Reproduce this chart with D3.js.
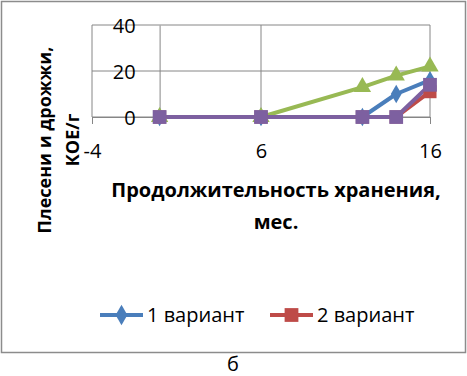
<!DOCTYPE html>
<html>
<head>
<meta charset="utf-8">
<script src="https://cdn.jsdelivr.net/npm/d3@7"></script>
<style>
  body { margin: 0; background: #fff; }
  svg text { font-family: "Open Sans", sans-serif; fill: #000; }
</style>
</head>
<body>
<div id="chart"></div>
<script>
// months of storage
const months = [0, 6, 12, 14, 16];
// moulds and yeasts, CFU/g
const variant1 = [0, 0, 0, 10, 16];
const variant2 = [0, 0, 0, 0, 11];
const variant3 = [0, 0, 13, 18, 22];
const variant4 = [0, 0, 0, 0, 14];
const seriesNames = ["1 вариант", "2 вариант", "3 вариант", "4 вариант"];
const xTicks = [-4, 6, 16];
const yTicks = [0, 20, 40];

const W = 467, H = 376;
const series = [
  { name: seriesNames[0], values: variant1, color: "#4a7ebb", shape: d3.symbolDiamond, size: 100 },
  { name: seriesNames[1], values: variant2, color: "#be4b48", shape: d3.symbolSquare, size: 170 },
  { name: seriesNames[2], values: variant3, color: "#98b954", shape: d3.symbolTriangle, size: 130 },
  { name: seriesNames[3], values: variant4, color: "#7d60a0", shape: d3.symbolSquare, size: 190 }
];

const svg = d3.select('#chart').append('svg')
  .attr('width', W)
  .attr('height', H);

// outer chart frame
svg.append('rect')
  .attr('x', 1.5).attr('y', 1.5)
  .attr('width', 464).attr('height', 351)
  .attr('fill', '#fff')
  .attr('stroke', '#8c8c8c')
  .attr('stroke-width', 1.5);

const x = d3.scaleLinear().domain([-4, 16]).range([92, 430]);
const y = d3.scaleLinear().domain([0, 40]).range([117, 25]);

// gridlines
svg.append('g').selectAll('line')
  .data(yTicks)
  .enter().append('line')
  .attr('x1', x(-4)).attr('x2', x(16))
  .attr('y1', d => y(d)).attr('y2', d => y(d))
  .attr('stroke', '#868686');

svg.append('g').selectAll('line')
  .data(xTicks)
  .enter().append('line')
  .attr('x1', d => x(d)).attr('x2', d => x(d))
  .attr('y1', y(0)).attr('y2', y(40))
  .attr('stroke', '#868686');

// axes
const xAxis = svg.append('g')
  .attr('transform', `translate(0,${y(0)})`)
  .call(d3.axisBottom(x).tickValues(xTicks).tickSize(7).tickPadding(20).tickFormat(d3.format('d')));

const yAxis = svg.append('g')
  .attr('transform', `translate(${x(0)},0)`)
  .call(d3.axisLeft(y).tickValues(yTicks).tickSize(0).tickPadding(24));

[xAxis, yAxis].forEach(a => {
  a.select('.domain').attr('stroke', '#868686');
  a.selectAll('.tick line').attr('stroke', '#868686');
  a.selectAll('text').style('font-size', '20px').attr('fill', '#000');
});
xAxis.selectAll('text').text(d => d < 0 ? '-' + Math.abs(d) : d);
yAxis.selectAll('text').attr('dy', '0.36em');

// lines and markers
const line = d3.line()
  .x((d, i) => x(months[i]))
  .y(d => y(d));

series.forEach(s => {
  svg.append('path')
    .datum(s.values)
    .attr('fill', 'none')
    .attr('stroke', s.color)
    .attr('stroke-width', 4)
    .attr('stroke-linejoin', 'round')
    .attr('d', line);
});

series.forEach(s => {
  svg.append('g').selectAll('path')
    .data(s.values)
    .enter().append('path')
    .attr('transform', (d, i) => `translate(${x(months[i])},${y(d)})`)
    .attr('d', d3.symbol().type(s.shape).size(s.size))
    .attr('fill', s.color);
});

// axis titles
const yTitle = svg.append('text')
  .attr('transform', 'translate(45,140) rotate(-90)')
  .attr('text-anchor', 'middle')
  .style('font-size', '18px')
  .style('font-weight', 'bold');
yTitle.append('tspan').attr('x', 0).attr('dy', '0.35em').text('Плесени и дрожжи,');
yTitle.append('tspan').attr('x', 0).attr('dy', '1.55em').text('КОЕ/г');

svg.append('text')
  .attr('x', 276).attr('y', 197)
  .attr('text-anchor', 'middle')
  .style('font-size', '20px')
  .style('font-weight', 'bold')
  .text('Продолжительность хранения,');

svg.append('text')
  .attr('x', 276).attr('y', 229)
  .attr('text-anchor', 'middle')
  .style('font-size', '20px')
  .style('font-weight', 'bold')
  .text('мес.');

// legend (only the first two entries fit)
const legend = svg.append('g')
  .attr('transform', 'translate(100,315)');

legend.selectAll('g')
  .data(series.slice(0, 2))
  .enter().append('g')
  .attr('transform', (d, i) => `translate(${i * 170},0)`)
  .each(function (s) {
    const g = d3.select(this);
    g.append('line')
      .attr('x1', 0).attr('x2', 43)
      .attr('stroke', s.color)
      .attr('stroke-width', 4);
    g.append('path')
      .attr('transform', 'translate(21.5,0)')
      .attr('d', d3.symbol().type(s.shape).size(s.size + 20))
      .attr('fill', s.color);
    g.append('text')
      .attr('x', 47)
      .attr('dy', '0.35em')
      .style('font-size', '20px')
      .text(s.name);
  });

svg.append('text')
  .attr('x', 233).attr('y', 371)
  .attr('text-anchor', 'middle')
  .style('font-size', '20px')
  .text('б');
</script>
</body>
</html>
